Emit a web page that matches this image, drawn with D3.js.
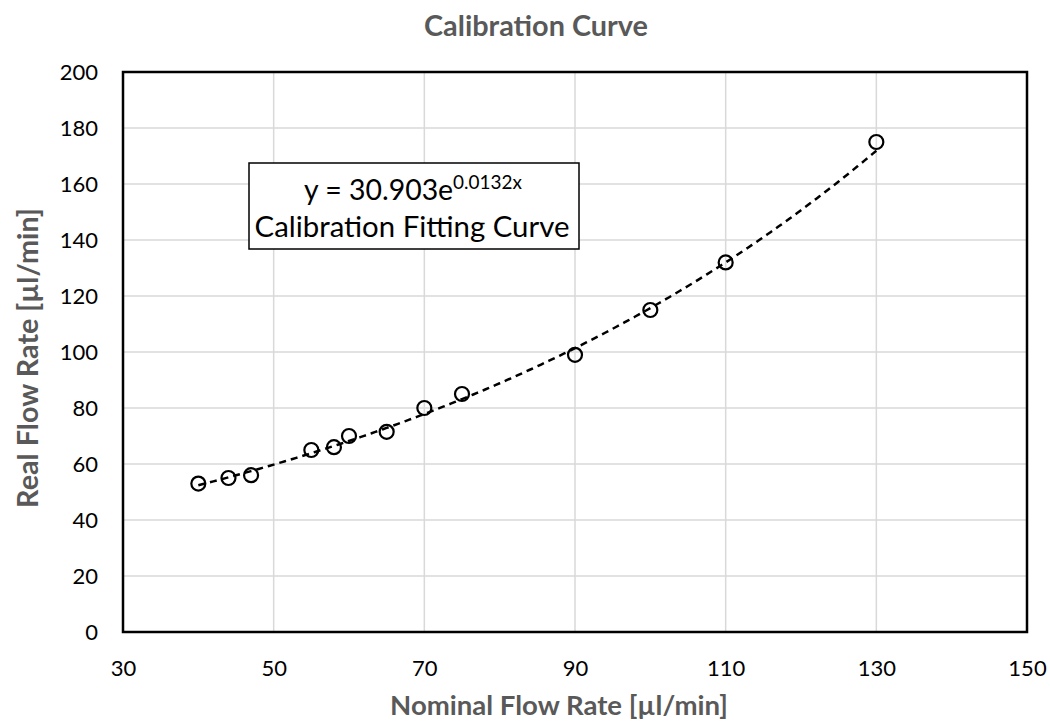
<!DOCTYPE html>
<html>
<head>
<meta charset="utf-8">
<script src="https://cdn.jsdelivr.net/npm/d3@7"></script>
<style>
  body { margin: 0; background: #fff; }
  svg { display: block; font-family: Lato, "Open Sans", sans-serif; }
</style>
</head>
<body>
<div id="chart"></div>
<script>
// measured points
const nominal = [40, 44, 47, 55, 58, 60, 65, 70, 75, 90, 100, 110, 130];
const real = [53, 55, 56, 65, 66, 70, 71.5, 80, 85, 99, 115, 132, 175];

// exponential trendline shown in the chart: y = a * e^(b x)
const fitA = 30.903;
const fitB = 0.0132;
const fitRange = [40, 130];

const xTicks = [30, 50, 70, 90, 110, 130, 150];
const yTicks = [0, 20, 40, 60, 80, 100, 120, 140, 160, 180, 200];

const margin = { top: 72, right: 23, bottom: 92, left: 123 },
  width = 1050 - margin.left - margin.right,
  height = 724 - margin.top - margin.bottom;

const svgRoot = d3.select("#chart")
  .append("svg")
  .attr("width", 1050)
  .attr("height", 724);

const svg = svgRoot.append("g")
  .attr("transform", `translate(${margin.left}, ${margin.top})`);

const x = d3.scaleLinear().domain([30, 150]).range([0, width]);
const y = d3.scaleLinear().domain([0, 200]).range([height, 0]);

// scale a text's font size so it spans the width seen in the reference
function fitWidth(sel, target) {
  const w = sel.node().getComputedTextLength();
  const k = target / w;
  sel.style("font-size", parseFloat(sel.style("font-size")) * k + "px");
  sel.selectAll("tspan").each(function () {
    const t = d3.select(this);
    if (this.style.fontSize) t.style("font-size", parseFloat(this.style.fontSize) * k + "px");
  });
}

// gridlines
svg.append("g")
  .selectAll("line")
  .data(yTicks)
  .join("line")
  .attr("x1", 0).attr("x2", width)
  .attr("y1", d => y(d)).attr("y2", d => y(d))
  .attr("stroke", "#d9d9d9")
  .attr("stroke-width", 1.5);

svg.append("g")
  .selectAll("line")
  .data(xTicks)
  .join("line")
  .attr("y1", 0).attr("y2", height)
  .attr("x1", d => x(d)).attr("x2", d => x(d))
  .attr("stroke", "#d9d9d9")
  .attr("stroke-width", 1.5);

// axes (labels only, frame drawn separately)
const xAxis = svg.append("g")
  .attr("transform", `translate(0, ${height})`)
  .call(d3.axisBottom(x).tickValues(xTicks).tickSize(0).tickPadding(28));
const yAxis = svg.append("g")
  .call(d3.axisLeft(y).tickValues(yTicks).tickSize(0).tickPadding(25));

[xAxis, yAxis].forEach(a => {
  a.select(".domain").remove();
  a.selectAll("text")
    .style("font-family", "Lato, 'Open Sans', sans-serif")
    .style("font-size", "22px")
    .attr("fill", "#000");
});

// frame
svg.append("rect")
  .attr("width", width)
  .attr("height", height)
  .attr("fill", "none")
  .attr("stroke", "#000")
  .attr("stroke-width", 2.5);

// fitted curve
const curvePts = d3.range(fitRange[0], fitRange[1] + 0.001, 0.5)
  .map(v => ({ x: v, y: fitA * Math.exp(fitB * v) }));

svg.append("path")
  .datum(curvePts)
  .attr("fill", "none")
  .attr("stroke", "#000")
  .attr("stroke-width", 2.5)
  .attr("stroke-dasharray", "7,5")
  .attr("d", d3.line().x(d => x(d.x)).y(d => y(d.y)));

// data points
svg.selectAll("circle.pt")
  .data(nominal)
  .join("circle")
  .attr("class", "pt")
  .attr("cx", d => x(d))
  .attr("cy", (d, i) => y(real[i]))
  .attr("r", 7)
  .attr("fill", "none")
  .attr("stroke", "#000")
  .attr("stroke-width", 2.2);

// equation box
const box = svgRoot.append("g");
box.append("rect")
  .attr("x", 249).attr("y", 163)
  .attr("width", 330).attr("height", 86)
  .attr("fill", "#fff")
  .attr("stroke", "#000")
  .attr("stroke-width", 1.5);

const eq = box.append("text")
  .attr("x", 413).attr("y", 200)
  .attr("text-anchor", "middle")
  .style("font-size", "24px")
  .attr("fill", "#000");
eq.append("tspan").text(`y = ${fitA}e`);
eq.append("tspan")
  .attr("dy", -11)
  .style("font-size", "16px")
  .text(`${fitB}x`);
fitWidth(eq, 218);

const eqName = box.append("text")
  .attr("x", 412).attr("y", 237)
  .attr("text-anchor", "middle")
  .style("font-size", "24px")
  .attr("fill", "#000")
  .text("Calibration Fitting Curve");
fitWidth(eqName, 315);

// titles
const title = svgRoot.append("text")
  .attr("x", 536).attr("y", 36)
  .attr("text-anchor", "middle")
  .style("font-size", "24px")
  .style("font-weight", "bold")
  .attr("fill", "#595959")
  .text("Calibration Curve");
fitWidth(title, 224);

const xTitle = svgRoot.append("text")
  .attr("x", 559).attr("y", 715)
  .attr("text-anchor", "middle")
  .style("font-size", "24px")
  .style("font-weight", "bold")
  .attr("fill", "#595959")
  .text("Nominal Flow Rate [\u00b5l/min]");
fitWidth(xTitle, 338);

const yTitle = svgRoot.append("text")
  .attr("transform", "translate(38, 358) rotate(-90)")
  .attr("text-anchor", "middle")
  .style("font-size", "24px")
  .style("font-weight", "bold")
  .attr("fill", "#595959")
  .text("Real Flow Rate [\u00b5l/min]");
fitWidth(yTitle, 300);
</script>
</body>
</html>
